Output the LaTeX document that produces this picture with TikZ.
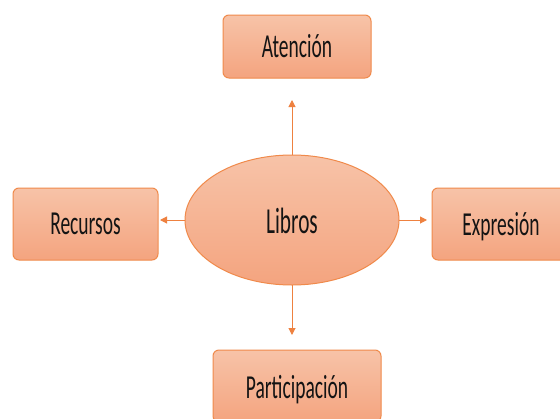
\documentclass[tikz,border=0pt]{standalone}
\usepackage{fontspec}
\setmainfont{Carlito}
\usetikzlibrary{arrows.meta,shapes.geometric}
\definecolor{edgeor}{HTML}{F08A4B}
\definecolor{arrowor}{HTML}{EE8140}
\definecolor{filltop}{HTML}{F7C3A8}
\definecolor{fillbot}{HTML}{F4A47F}
\definecolor{txt}{HTML}{141414}
\tikzset{
  box/.style={draw=edgeor, line width=1pt, rounded corners=6pt, top color=filltop, bottom color=fillbot, minimum width=#1, outer sep=0pt, inner sep=0pt},
  oval/.style={ellipse, draw=edgeor, line width=1pt, top color=filltop, bottom color=fillbot, minimum width=214pt, minimum height=130pt, outer sep=0pt, inner sep=0pt},
  lbl/.style={anchor=base, inner sep=0pt, text=txt, font=\fontsize{19.5}{23}\selectfont},
  conn/.style={draw=arrowor, line width=1pt, -{Triangle[length=7pt,width=7pt]}}
}
\newcommand{\tallt}[1]{\scalebox{1}[1.72]{#1}}
\begin{document}
\begin{tikzpicture}[x=1pt,y=-1pt]
\useasboundingbox (0,0) rectangle (560,418);
\fill[white] (0,0) rectangle (560,418);
\clip (0,0) rectangle (560,418);
\node[box=148pt, minimum height=63pt] (aten) at (297,46.5) {};
\node[box=145pt, minimum height=72pt] (rec) at (85.5,224) {};
\node[box=145pt, minimum height=72pt] (expr) at (504.5,224) {};
\node[box=168pt, minimum height=72pt] (part) at (297,386) {};
\node[oval] (lib) at (292,220) {};
\node[lbl] (tAten) at (297,57) {\tallt{Atención}};
\node[lbl] (tRec) at (85.5,234) {\tallt{Recursos}};
\node[lbl] (tExpr) at (501,235) {\tallt{Expresión}};
\node[lbl] (tPart) at (297,398) {\tallt{Participación}};
\node[lbl, font=\fontsize{21.3}{25}\selectfont] (tLib) at (292,233) {\tallt{Libros}};
\draw[conn, shorten >=22pt] (lib.north) -- (lib.north |- aten.south);
\draw[conn, shorten >=2pt] (lib.west) -- (rec.east |- lib.west);
\draw[conn, shorten >=5pt] (lib.east) -- (expr.west |- lib.east);
\draw[conn, shorten >=15pt] (lib.south) -- (lib.south |- part.north);
\end{tikzpicture}
\end{document}
